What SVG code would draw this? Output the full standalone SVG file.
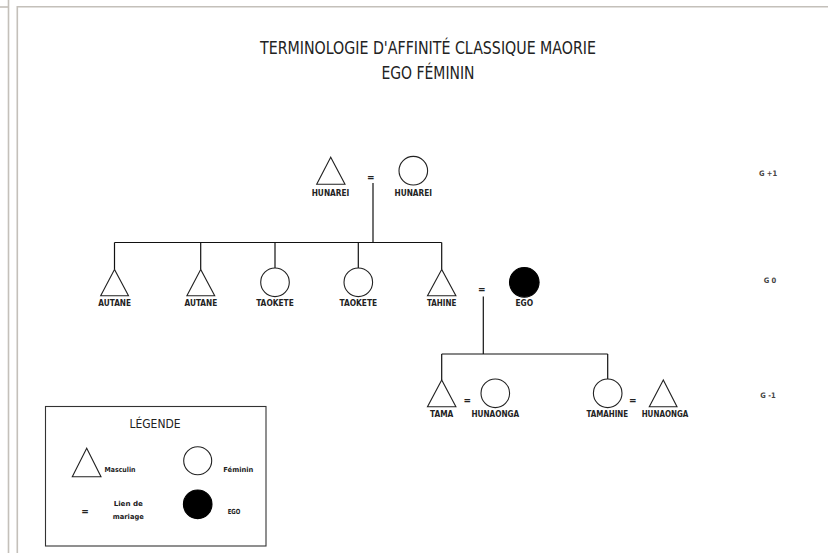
<svg xmlns="http://www.w3.org/2000/svg" width="828" height="553" viewBox="0 0 828 553">
<style>
.frame{fill:none;stroke:#c4c0ba;stroke-width:1.6}
.shape{fill:#fff;stroke:#222;stroke-width:1.1}
.ego{fill:#000;stroke:#000;stroke-width:1.1}
.conn{fill:none;stroke:#111;stroke-width:1.2}
.title{font-family:"DejaVu Sans Condensed","DejaVu Sans",sans-serif;font-size:17px;fill:#222;text-anchor:middle}
.lbl{font-family:"DejaVu Sans Condensed","DejaVu Sans",sans-serif;font-size:8px;font-weight:bold;fill:#222;text-anchor:middle}
.eq{font-family:"DejaVu Sans Condensed","DejaVu Sans",sans-serif;font-size:10px;font-weight:bold;fill:#222;text-anchor:middle}
.gen{font-family:"DejaVu Sans Condensed","DejaVu Sans",sans-serif;font-size:7.5px;font-weight:bold;fill:#444;text-anchor:middle}
.leg{font-family:"DejaVu Sans Condensed","DejaVu Sans",sans-serif;font-size:7px;font-weight:bold;fill:#222;text-anchor:middle}
.legt{font-family:"DejaVu Sans Condensed","DejaVu Sans",sans-serif;font-size:12px;fill:#222;text-anchor:middle}
</style>
<rect width="828" height="553" fill="#fff"/>
<g id="frame">
<line class="frame" x1="8.5" y1="0" x2="8.5" y2="553"/>
<line class="frame" x1="0" y1="7" x2="8.5" y2="7"/>
<polyline class="frame" points="17.3,553 17.3,6.8 828,6.8"/>
</g>
<g id="title">
<text class="title" x="428" y="53.5" textLength="336" lengthAdjust="spacingAndGlyphs">TERMINOLOGIE D'AFFINITÉ CLASSIQUE MAORIE</text>
<text class="title" x="428" y="79" textLength="93" lengthAdjust="spacingAndGlyphs">EGO FÉMININ</text>
</g>
<g id="connectors">
<line class="conn" x1="373" y1="183" x2="373" y2="242.5"/>
<line class="conn" x1="114.5" y1="242.5" x2="441.7" y2="242.5"/>
<line class="conn" x1="114.5" y1="242.5" x2="114.5" y2="269.5"/>
<line class="conn" x1="200.7" y1="242.5" x2="200.7" y2="269.5"/>
<line class="conn" x1="275" y1="242.5" x2="275" y2="268"/>
<line class="conn" x1="358.3" y1="242.5" x2="358.3" y2="268"/>
<line class="conn" x1="441.7" y1="242.5" x2="441.7" y2="269.5"/>
<line class="conn" x1="483.3" y1="296.5" x2="483.3" y2="354"/>
<line class="conn" x1="441.7" y1="354" x2="607.7" y2="354"/>
<line class="conn" x1="441.7" y1="354" x2="441.7" y2="380"/>
<line class="conn" x1="607.7" y1="354" x2="607.7" y2="379"/>
</g>
<g id="hunarei-m">
<polygon class="shape" points="330.7,157.3 316.7,184.3 345,184.3"/>
<text class="lbl" x="330.5" y="195.5" textLength="37.6" lengthAdjust="spacingAndGlyphs">HUNAREI</text>
</g>
<text class="eq" x="370.8" y="181">=</text>
<g id="hunarei-f">
<circle class="shape" cx="413.3" cy="170.7" r="14.3"/>
<text class="lbl" x="413.3" y="195.5" textLength="37.6" lengthAdjust="spacingAndGlyphs">HUNAREI</text>
</g>
<g id="autane-1">
<polygon class="shape" points="114.5,269.5 100.7,295.7 128.5,295.7"/>
<text class="lbl" x="114.7" y="306" textLength="32.7" lengthAdjust="spacingAndGlyphs">AUTANE</text>
</g>
<g id="autane-2">
<polygon class="shape" points="200.7,269.5 186.9,295.7 214.7,295.7"/>
<text class="lbl" x="200.9" y="306" textLength="32.7" lengthAdjust="spacingAndGlyphs">AUTANE</text>
</g>
<g id="taokete-1">
<circle class="shape" cx="275" cy="282.3" r="14.3"/>
<text class="lbl" x="275" y="306" textLength="37.7" lengthAdjust="spacingAndGlyphs">TAOKETE</text>
</g>
<g id="taokete-2">
<circle class="shape" cx="358.3" cy="282.3" r="14.3"/>
<text class="lbl" x="358.3" y="306" textLength="37.7" lengthAdjust="spacingAndGlyphs">TAOKETE</text>
</g>
<g id="tahine">
<polygon class="shape" points="441.7,269.5 427.5,295.7 455.9,295.7"/>
<text class="lbl" x="441.7" y="306" textLength="29.3" lengthAdjust="spacingAndGlyphs">TAHINE</text>
</g>
<text class="eq" x="481.7" y="292.8">=</text>
<g id="ego">
<circle class="ego" cx="524.3" cy="282.3" r="14.8"/>
<text class="lbl" x="524.3" y="306" textLength="17.7" lengthAdjust="spacingAndGlyphs">EGO</text>
</g>
<g id="tama">
<polygon class="shape" points="441.7,380 427.5,406.7 455.9,406.7"/>
<text class="lbl" x="441.7" y="417" textLength="23.3" lengthAdjust="spacingAndGlyphs">TAMA</text>
</g>
<text class="eq" x="467.3" y="403.5">=</text>
<g id="hunaonga-1">
<circle class="shape" cx="495.3" cy="393.3" r="14.3"/>
<text class="lbl" x="495.3" y="417" textLength="47.7" lengthAdjust="spacingAndGlyphs">HUNAONGA</text>
</g>
<g id="tamahine">
<circle class="shape" cx="607.7" cy="393.3" r="14.3"/>
<text class="lbl" x="607.3" y="417" textLength="41.7" lengthAdjust="spacingAndGlyphs">TAMAHINE</text>
</g>
<text class="eq" x="632.7" y="403.5">=</text>
<g id="hunaonga-2">
<polygon class="shape" points="663.3,380 649.3,406.7 677,406.7"/>
<text class="lbl" x="665" y="417" textLength="46.7" lengthAdjust="spacingAndGlyphs">HUNAONGA</text>
</g>
<g id="generations">
<text class="gen" x="768" y="175.5">G +1</text>
<text class="gen" x="770" y="283">G 0</text>
<text class="gen" x="768" y="397.5">G -1</text>
</g>
<g id="legend">
<rect x="45.5" y="406.5" width="220.5" height="139.5" fill="#fff" stroke="#333" stroke-width="1.1"/>
<text class="legt" x="155" y="428.3" textLength="51" lengthAdjust="spacingAndGlyphs">LÉGENDE</text>
<polygon class="shape" points="86.7,448.3 72.3,476.7 101,476.7"/>
<text class="leg" x="120" y="472.3" textLength="31" lengthAdjust="spacingAndGlyphs">Masculin</text>
<circle class="shape" cx="197.7" cy="460.7" r="14"/>
<text class="leg" x="238.3" y="472.3" textLength="30" lengthAdjust="spacingAndGlyphs">Féminin</text>
<text class="eq" x="85" y="515">=</text>
<text class="leg" x="128.3" y="506" textLength="29.3" lengthAdjust="spacingAndGlyphs">Lien de</text>
<text class="leg" x="128.3" y="519.3" textLength="31" lengthAdjust="spacingAndGlyphs">mariage</text>
<circle class="ego" cx="197.7" cy="504.3" r="14.3"/>
<text class="leg" x="234" y="514" textLength="12.7" lengthAdjust="spacingAndGlyphs">EGO</text>
</g>
</svg>
